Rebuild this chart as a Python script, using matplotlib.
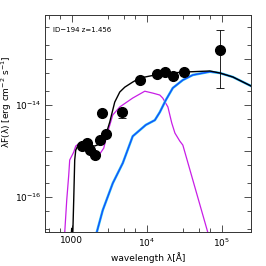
import numpy as np
import matplotlib
matplotlib.use("Agg")
import matplotlib.pyplot as plt
from matplotlib.ticker import LogLocator, FixedLocator, NullFormatter, FixedFormatter

# Photometric points
obs_wave = [1360, 1585, 1740, 2030, 2360, 2840, 2510, 4640, 8070, 13600, 17400, 22200, 31100, 94000]
obs_flux = [1.28e-15, 1.49e-15, 1.05e-15, 8.2e-16, 1.74e-15, 2.34e-15, 6.7e-15, 7.0e-15,
            3.5e-14, 4.7e-14, 5.2e-14, 4.27e-14, 5.2e-14, 1.58e-13]
obs_err_lo = [1.5e-16, 1.5e-16, 1.2e-16, 1.0e-16, 1.5e-16, 2e-16, 6e-16, 1.8e-15,
              3e-15, 3e-15, 3e-15, 3e-15, 3e-15, 1.345e-13]
obs_err_hi = [1.5e-16, 1.5e-16, 1.2e-16, 1.0e-16, 1.5e-16, 2e-16, 6e-16, 1.0e-15,
              3e-15, 3e-15, 3e-15, 3e-15, 3e-15, 2.72e-13]

# Total model (black)
tot_wave = [940, 1000, 1031, 1063, 1096, 1131, 1202, 1360, 1633, 2030, 2512, 2840, 3210,
            3740, 4365, 5090, 6490, 8070, 14900, 30200, 69200, 94000, 140000, 244000]
tot_flux = [5e-18, 2.1e-17, 1.4e-17, 8.6e-17, 6.4e-16, 1.05e-15, 1.29e-15, 1.58e-15, 1.35e-15,
            1.29e-15, 1.49e-15, 2.23e-15, 4.27e-15, 1.16e-14, 1.92e-14, 2.45e-14, 3.16e-14,
            3.86e-14, 4.72e-14, 5.2e-14, 5.5e-14, 4.97e-14, 4.07e-14, 2.6e-14]

# Galaxy model (magenta)
gal_wave = [782, 807, 858, 912, 940, 1000, 1063, 1131, 1278, 1633, 2030, 2360, 2670, 3020,
            3520, 4365, 6490, 9400, 12000, 14900, 16300, 19100, 21500, 23700, 27500, 30200, 65000, 70000]
gal_flux = [5e-18, 1.7e-17, 8.6e-17, 3.0e-16, 6.4e-16, 7.8e-16, 9.5e-16, 1.29e-15, 1.49e-15,
            1.22e-15, 9.5e-16, 8.6e-16, 1.16e-15, 2.6e-15, 6.1e-15, 9.1e-15, 1.42e-14, 2.0e-14,
            1.82e-14, 1.65e-14, 1.42e-14, 9.1e-15, 4.07e-15, 2.46e-15, 1.65e-15, 1.35e-15, 1.7e-17, 8e-18]

# AGN / torus model (blue)
agn_wave = [2050, 2150, 2590, 3520, 4790, 6490, 9700, 12800, 14900, 17900, 22200, 30200,
            41000, 69200, 94000, 140000, 244000]
agn_flux = [5e-18, 1.7e-17, 5.2e-17, 2.0e-16, 5.5e-16, 2.1e-15, 3.7e-15, 4.7e-15, 7.0e-15,
            1.28e-14, 2.35e-14, 3.5e-14, 4.5e-14, 5.3e-14, 4.97e-14, 4.07e-14, 2.6e-14]

label_text = "ID\u2212194 z=1.456"

fig = plt.figure(figsize=(2.66, 2.66), dpi=100)
ax = fig.add_axes([0.169, 0.128, 0.775, 0.816])
ax.set_xscale("log")
ax.set_yscale("log")

ax.plot(gal_wave, gal_flux, color="#c81ee6", lw=0.9, zorder=2)
ax.plot(agn_wave, agn_flux, color="#33ccee", lw=1.8, zorder=3)
ax.plot(agn_wave, agn_flux, color="#1450ff", lw=1.0, zorder=4)
ax.plot(tot_wave, tot_flux, color="black", lw=1.0, zorder=5)
ax.errorbar(obs_wave, obs_flux, yerr=[obs_err_lo, obs_err_hi], fmt="o", color="black",
            ms=7, elinewidth=0.6, capsize=3, capthick=0.6, zorder=6)

ax.set_xlim(440, 2.45e5)
ax.set_ylim(1.75e-17, 9.1e-13)

ax.xaxis.set_major_locator(FixedLocator([1e3, 1e4, 1e5]))
ax.xaxis.set_major_formatter(FixedFormatter(["1000", r"$10^4$", r"$10^5$"]))
ax.xaxis.set_minor_locator(LogLocator(base=10, subs=(3, 5, 7)))
ax.xaxis.set_minor_formatter(NullFormatter())
ax.yaxis.set_major_locator(FixedLocator([1e-16, 1e-15, 1e-14, 1e-13]))
ax.yaxis.set_major_formatter(FixedFormatter([r"$10^{-16}$", "", r"$10^{-14}$", ""]))
ax.yaxis.set_minor_locator(LogLocator(base=10, subs=(2, 5)))
ax.yaxis.set_minor_formatter(NullFormatter())

ax.tick_params(which="both", direction="in", top=True, right=True, labelsize=6.5, colors="#333333",
               labelcolor="black", width=0.6)
ax.tick_params(which="major", length=5, pad=3)
ax.tick_params(which="minor", length=3)
ax.tick_params(axis="y", which="major", pad=2.5)
for s in ax.spines.values():
    s.set_linewidth(0.7)
    s.set_color("#333333")

ax.set_xlabel("wavelength \u03bb[\u00c5]", fontsize=6.5)
ax.xaxis.set_label_coords(0.5, -0.092)
ax.set_ylabel("\u03bbF(\u03bb) [erg cm$^{-2}$ s$^{-1}$]", fontsize=6.5)
ax.yaxis.set_label_coords(-0.148, 0.6)
ax.text(0.04, 0.93, label_text, transform=ax.transAxes, fontsize=5, va="center", ha="left")

fig.savefig("out.png", dpi=100)
